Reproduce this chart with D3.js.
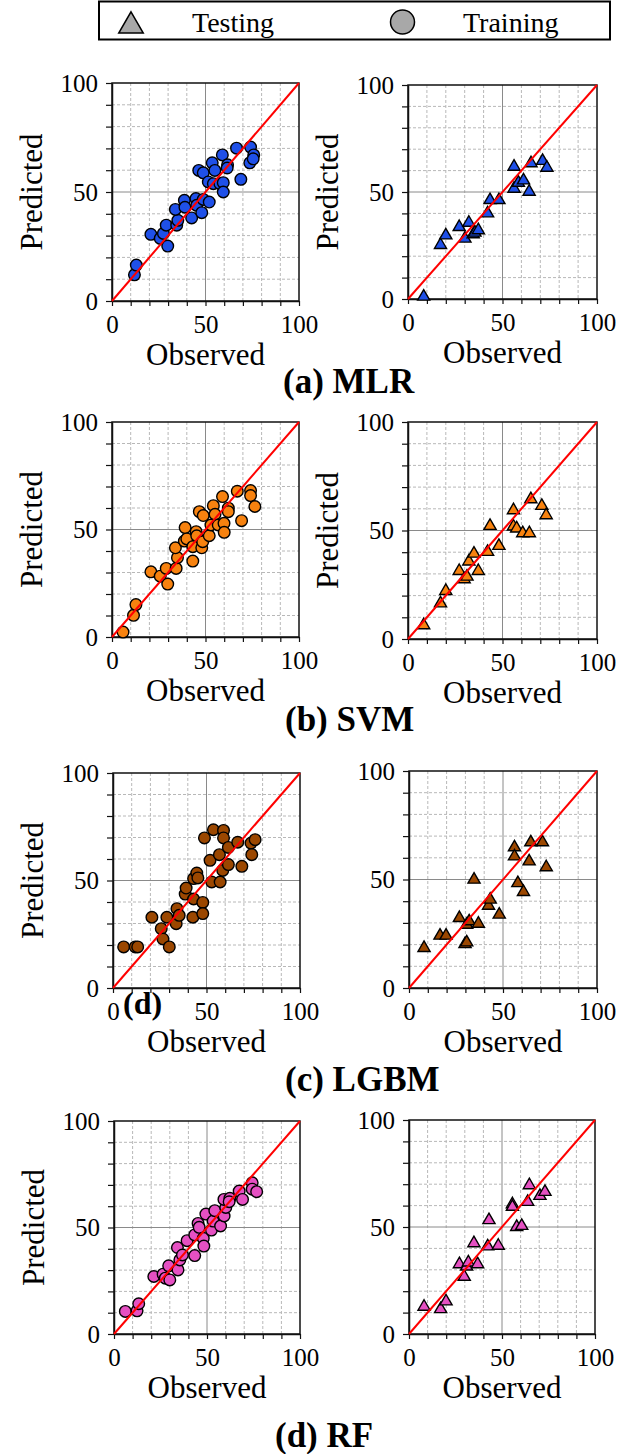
<!DOCTYPE html>
<html>
<head>
<meta charset="utf-8">
<script src="https://cdn.jsdelivr.net/npm/d3@7"></script>
<style>
  body { margin: 0; background: #fff; }
  svg  { display: block; }
  svg text { font-family: "Liberation Serif", "Times New Roman", Times, serif; }
</style>
</head>
<body>
<script>

// ---- data: [observed, predicted] pairs ----
var mlrTrain = [[12,12],[13,16.5],[20.8,30.6],[25.8,28.7],[27.5,31],[29,34.8],[29.8,25.2],[34.6,34.8],
    [35.2,37],[33.9,42],[38.7,46.2],[39,43],[42.6,38.1],[44.9,47],[45.3,43.9],[48,40.5],[48.8,46.6],
    [52,45.4],[46.4,59.9],[48.8,58.8],[51.5,54.6],[53.6,63.4],[55,59.9],[54.2,53.8],[57.7,53.8],
    [59.5,54.3],[59,67],[59.5,50],[61.8,62.5],[61.6,61],[66.6,70.1],[68.9,55.8],[74.1,70.6],
    [75.8,67],[73.7,63.4],[75.5,65.2]];
var mlrTest = [[8.3,1.6],[17.2,25.7],[20,30.2],[27.1,34.1],[30.1,28.7],[32.2,36.1],[34.5,30.7],
    [35.4,31.5],[37.2,32.6],[42.1,40.5],[43.4,46.7],[48.1,46.7],[56.1,62.3],[56.1,52],[58.4,54.8],
    [61.1,55.9],[64.1,50.6],[65.1,63.9],[71.2,65],[73.5,61.8]];

var svmTrain = [[5.9,2.3],[11.5,10.1],[12.8,15.1],[20.8,30.3],[25.8,28.3],[29,31.9],[29.8,24.6],
    [34.3,31.9],[35,36.9],[33.9,41.5],[38.7,44.6],[39.1,50.9],[40,45.6],[43.2,42],[43.2,35.3],
    [45,49],[45.3,47.1],[48,41.5],[48.5,44.3],[46.7,58.3],[48.8,56.5],[52,47.1],[52.9,52.1],
    [54.2,61.1],[55.1,57.1],[56.8,52.1],[59.1,65.3],[59.9,52.9],[60,48.7],[62.2,59.9],[62.2,58.3],
    [67,67.8],[69.3,54.1],[74.1,68.1],[74.1,65.8],[76.4,60.7]];
var svmTest = [[8.3,6.8],[17.2,16.9],[20,22.6],[27.1,31.8],[29.7,28],[31.2,29.2],[32.2,36.2],
    [34.9,39.8],[37.2,31.8],[42.1,40.6],[43.4,52.6],[48.1,43.4],[55.8,59.8],[55.8,52.3],[57.5,51.4],
    [60.7,49.2],[64.2,49.2],[65,64.9],[70.8,61.8],[73.1,57.5]];

var lgbmTrain = [[5.7,19.1],[11.9,19.1],[13.2,19.1],[20.8,32.9],[25.8,27.6],[26.7,22.8],[28.8,32.9],
    [30.1,19.1],[33.8,29.9],[34.2,36.9],[35.4,33.8],[38.6,43.7],[39.1,46.5],[43.1,41.4],[42.7,32.9],
    [43.1,50.9],[44.8,53.5],[45.4,51.2],[48,39.8],[48,34.6],[48.9,69.8],[51.9,59.4],[52.8,49.3],
    [53.7,73.6],[56.9,62],[57.3,49.3],[58.7,54.7],[59.1,73.3],[59.1,69.8],[61.7,57.4],[61.7,65.4],
    [66.7,67.8],[68.9,56.6],[73.8,67.4],[74.2,62],[76,69]];
var lgbmTest = [[8,18.9],[16.5,24.6],[19.7,24.6],[26.8,32.7],[29.8,20.7],[30.7,21.5],[30.7,29.6],
    [32,31.2],[34.6,50.4],[36.9,30.1],[42.3,38.4],[43.2,41.2],[48,34.3],[56.1,65.3],[56.1,61.1],
    [57.9,48.8],[60.9,44.7],[63.9,58.8],[64.8,67.6],[71,67.6],[73,56.1]];

var rfTrain = [[6.1,10.6],[12.4,10.9],[13.3,14.2],[21.4,27],[26.4,28.1],[27.6,26.2],[30,25.4],
    [29.4,32],[34.4,30.1],[35.4,34.8],[34.1,40.6],[36.8,37.1],[39.3,43.8],[43.4,36.8],[43.4,46.5],
    [45.2,51.9],[45.8,50.1],[48,44.9],[48.3,41.3],[49.4,56.3],[52.4,48.8],[53.3,53],[54.2,57.9],
    [57.3,50.7],[59.2,55.4],[60.1,59.4],[59.1,63.2],[62.3,63.7],[61.9,62.1],[67.3,67.1],[69.1,63.2],
    [74.3,71],[74.3,68],[76.7,66.8]];
var rfTest = [[8.1,13.2],[17,12.1],[19.9,15.7],[27.1,33.1],[29.7,27.2],[31,32],[31.9,33.9],
    [34.9,42.9],[36.9,33.1],[42.3,41.4],[43,53.7],[48,41.7],[55.6,61.1],[55.6,59.9],[57.9,50.5],
    [60.6,51],[63.8,62.2],[64.7,70],[70.4,65],[73.1,66.9]];

var modelTitles  = ["(a) MLR", "(b) SVM", "(c) LGBM", "(d) RF"];
var modelColors  = ["#1f50e8", "#f7820f", "#9b4700", "#e550c2"];
var trainSets    = [mlrTrain, svmTrain, lgbmTrain, rfTrain];
var testSets     = [mlrTest, svmTest, lgbmTest, rfTest];
var axisTicks    = [0, 50, 100];
var legendLabels = ["Testing", "Training"];

// ---- layout (pixel boxes of each plot frame) ----
var rows = [
    { L: {x0:112, x1:299, y0:83,   y1:301},  R: {x0:408, x1:597, y0:85,   y1:299},  tx:283, ty:393 },
    { L: {x0:112, x1:299, y0:422,  y1:637},  R: {x0:408, x1:597, y0:422,  y1:639},  tx:285, ty:731 },
    { L: {x0:113, x1:300, y0:773,  y1:988},  R: {x0:409, x1:597, y0:771,  y1:988},  tx:285, ty:1091 },
    { L: {x0:114, x1:300, y0:1121, y1:1334}, R: {x0:409, x1:595, y0:1120, y1:1334}, tx:275, ty:1447 }
];

var serif = '"Liberation Serif", "Times New Roman", Times, serif';

var svg = d3.select("body").append("svg")
    .attr("width", 634)
    .attr("height", 1454);

// clip for the cut-off y labels of the lower right panels
svg.append("defs").append("clipPath").attr("id", "labelClip")
    .append("rect").attr("x", 323).attr("y", 0).attr("width", 100).attr("height", 1454);

function drawPanel(box, data, color, isTest, clipLabel) {
    var x = d3.scaleLinear().domain([0, 100]).range([box.x0, box.x1]);
    var y = d3.scaleLinear().domain([0, 100]).range([box.y1, box.y0]);
    var g = svg.append("g");
    var inner = d3.range(10, 100, 10);

    // grid
    g.selectAll(".gv").data(inner).enter().append("line")
        .attr("x1", d => x(d)).attr("x2", d => x(d))
        .attr("y1", box.y0).attr("y2", box.y1)
        .attr("stroke", d => d === 50 ? "#8a8a8a" : "#b8b8b8")
        .attr("stroke-width", 1)
        .attr("stroke-dasharray", d => d === 50 ? null : "3,2");
    g.selectAll(".gh").data(inner).enter().append("line")
        .attr("y1", d => y(d)).attr("y2", d => y(d))
        .attr("x1", box.x0).attr("x2", box.x1)
        .attr("stroke", d => d === 50 ? "#8a8a8a" : "#b8b8b8")
        .attr("stroke-width", 1)
        .attr("stroke-dasharray", d => d === 50 ? null : "3,2");

    // frame
    g.append("rect")
        .attr("x", box.x0).attr("y", box.y0)
        .attr("width", box.x1 - box.x0).attr("height", box.y1 - box.y0)
        .attr("fill", "none").attr("stroke", "#111").attr("stroke-width", 1.5);

    // axes
    var fmt = d => axisTicks.indexOf(d) >= 0 ? d : "";
    var ax = g.append("g").attr("transform", "translate(0," + box.y1 + ")")
        .call(d3.axisBottom(x).tickValues(d3.range(0, 101, 10)).tickSize(5)
              .tickSizeOuter(0).tickPadding(9).tickFormat(fmt));
    var ay = g.append("g").attr("transform", "translate(" + box.x0 + ",0)")
        .call(d3.axisLeft(y).tickValues(d3.range(0, 101, 10)).tickSize(6)
              .tickSizeOuter(0).tickPadding(8).tickFormat(fmt));
    [ax, ay].forEach(function(a) {
        a.attr("font-family", null);
        a.select(".domain").attr("stroke", "#111").attr("stroke-width", 1.5);
        a.selectAll(".tick line").attr("stroke", "#111").attr("stroke-width", 1.2);
        a.selectAll("text").style("font-family", serif).style("font-size", "25px").attr("fill", "#000");
    });

    // points
    if (isTest) {
        g.selectAll(".pt").data(data).enter().append("path")
            .attr("d", d3.symbol().type(d3.symbolTriangle).size(64))
            .attr("transform", d => "translate(" + x(d[0]) + "," + (y(d[1]) + 1) + ")")
            .attr("fill", color).attr("stroke", "#000").attr("stroke-width", 1.4);
    } else {
        g.selectAll(".pt").data(data).enter().append("circle")
            .attr("cx", d => x(d[0])).attr("cy", d => y(d[1])).attr("r", 5.8)
            .attr("fill", color).attr("stroke", "#000").attr("stroke-width", 1.4);
    }

    // 1:1 line
    g.append("line")
        .attr("x1", x(0)).attr("y1", y(0)).attr("x2", x(100)).attr("y2", y(100))
        .attr("stroke", "#ff0000").attr("stroke-width", 2);

    // axis titles
    g.append("text")
        .attr("x", (box.x0 + box.x1) / 2).attr("y", box.y1 + 64)
        .attr("text-anchor", "middle")
        .style("font-family", serif).style("font-size", "31px")
        .text("Observed");
    var yl = g.append("text")
        .attr("transform", "translate(" + (box.x0 - 70) + "," + ((box.y0 + box.y1) / 2) + ") rotate(-90)")
        .attr("text-anchor", "middle")
        .style("font-family", serif).style("font-size", "31px")
        .text("Predicted");
    if (clipLabel) yl.attr("clip-path", "url(#labelClip)");
}

rows.forEach(function(r, i) {
    drawPanel(r.L, trainSets[i], modelColors[i], false, false);
    drawPanel(r.R, testSets[i], modelColors[i], true, i >= 2);
    svg.append("text")
        .attr("x", r.tx).attr("y", r.ty)
        .style("font-family", serif).style("font-size", "35px").style("font-weight", "bold")
        .text(modelTitles[i]);
});

// stray label left over in the source figure
svg.append("text")
    .attr("x", 123).attr("y", 1014)
    .style("font-family", serif).style("font-size", "32px").style("font-weight", "bold")
    .text("(d)");

// legend
var lg = svg.append("g");
lg.append("rect")
    .attr("x", 99).attr("y", 1.5).attr("width", 511).attr("height", 38)
    .attr("fill", "#fff").attr("stroke", "#000").attr("stroke-width", 2);
lg.append("path")
    .attr("d", d3.symbol().type(d3.symbolTriangle).size(260))
    .attr("transform", "translate(131,26)")
    .attr("fill", "#a8a8a8").attr("stroke", "#000").attr("stroke-width", 1.5);
lg.append("circle")
    .attr("cx", 402.5).attr("cy", 22).attr("r", 12)
    .attr("fill", "#a8a8a8").attr("stroke", "#000").attr("stroke-width", 1.5);
lg.selectAll(".lt").data(legendLabels).enter().append("text")
    .attr("x", (d, i) => i === 0 ? 192 : 463)
    .attr("y", 32)
    .style("font-family", serif).style("font-size", "28px")
    .text(d => d);

</script>
</body>
</html>
